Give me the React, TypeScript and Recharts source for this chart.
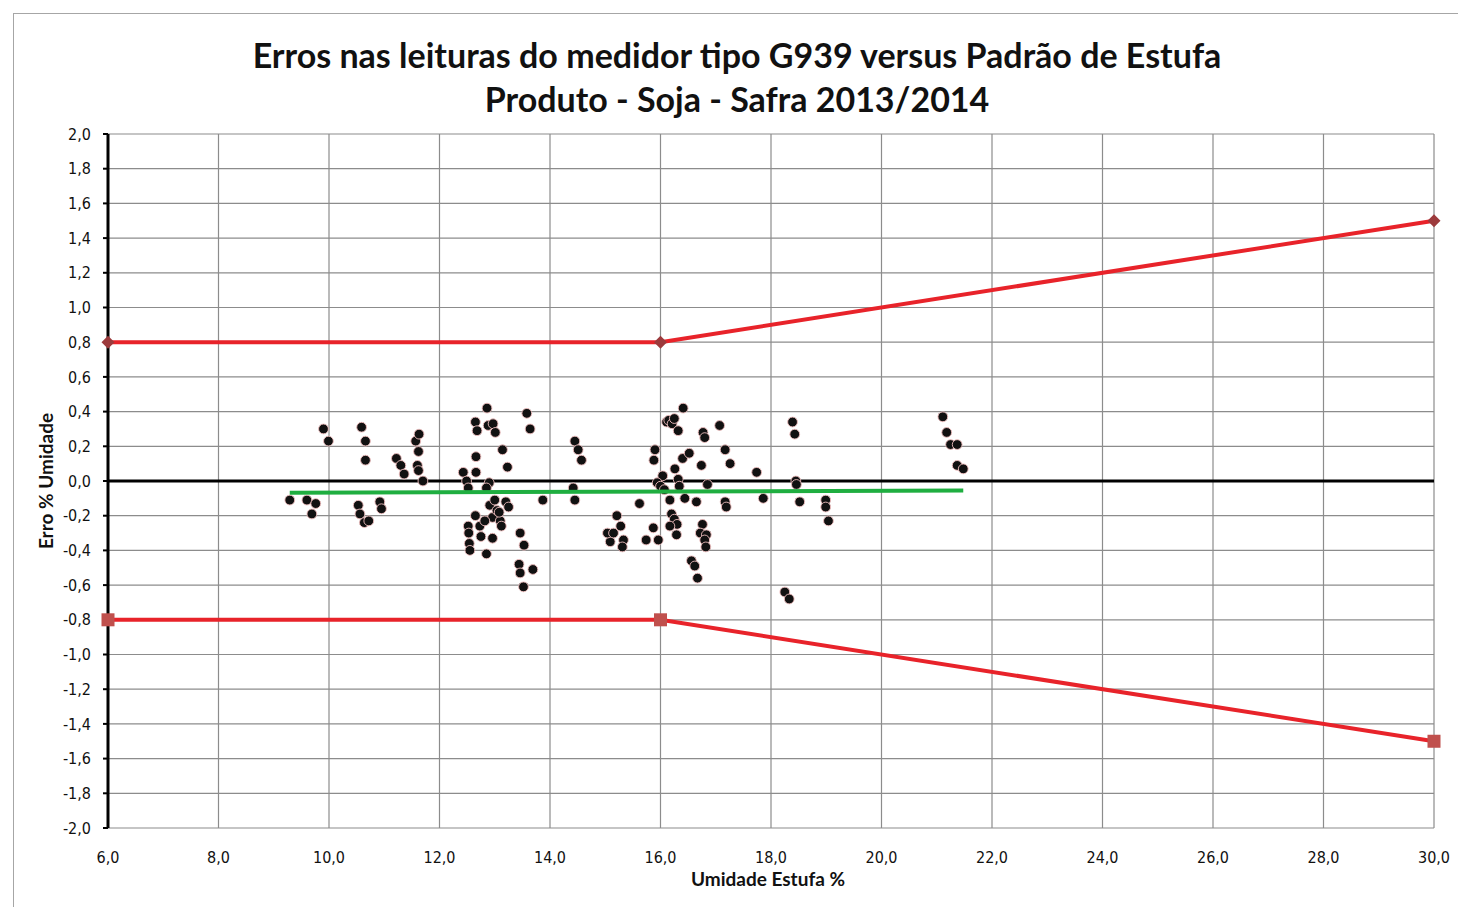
import React from 'react';
import {
  ScatterChart,
  Scatter,
  XAxis,
  YAxis,
  CartesianGrid,
  ReferenceLine,
} from 'recharts';

// leituras: umidade estufa (%) x erro (% umidade)
const moistureX = [
  9.29, 9.6, 9.69, 9.76, 9.9, 9.99,
  10.59, 10.66, 10.66, 10.53, 10.56, 10.64, 10.72, 10.92, 10.95,
  11.22, 11.3, 11.36, 11.57, 11.63, 11.62, 11.6, 11.62, 11.7,
  12.43, 12.49, 12.52, 12.66, 12.66, 12.65, 12.68, 12.86, 12.88, 12.97, 13.01, 13.14, 13.23, 12.9, 12.85,
  13.58, 13.64, 13.87,
  12.52, 12.53, 12.54, 12.55, 12.65, 12.73, 12.75, 12.85, 12.91, 12.96, 13.04, 13.1, 12.96, 13.2, 13.25,
  13.46, 13.53, 13.44, 13.46, 13.69, 13.52, 13.08, 13.12, 13.0, 12.82,
  14.45, 14.51, 14.57, 14.42, 14.45,
  15.09, 15.04, 15.15, 15.21, 15.28, 15.33, 15.31, 15.62, 15.74, 15.87, 15.96,
  15.9, 15.88, 16.04, 15.94, 16.0, 16.07, 16.17, 16.2, 16.25, 16.3, 16.17, 16.29,
  16.11, 16.15, 16.21, 16.25, 16.32, 16.41,
  16.26, 16.32, 16.34, 16.4, 16.52, 16.44, 16.65,
  16.74, 16.77, 16.8, 16.85, 17.07,
  16.76, 16.72, 16.83, 16.8, 16.82,
  16.56, 16.62, 16.67,
  17.17, 17.26, 17.17, 17.19,
  17.74, 17.86, 18.39, 18.43, 18.45, 18.46, 18.52, 18.99, 18.99, 19.04, 18.25, 18.33,
  21.11, 21.18, 21.25, 21.37, 21.37, 21.48,
];

const errorY = [
  -0.11, -0.11, -0.19, -0.13, 0.3, 0.23,
  0.31, 0.23, 0.12, -0.14, -0.19, -0.24, -0.23, -0.12, -0.16,
  0.13, 0.09, 0.04, 0.23, 0.27, 0.17, 0.09, 0.06, 0.0,
  0.05, 0.0, -0.04, 0.05, 0.14, 0.34, 0.29, 0.42, 0.32, 0.33, 0.28, 0.18, 0.08, -0.01, -0.04,
  0.39, 0.3, -0.11,
  -0.26, -0.3, -0.36, -0.4, -0.2, -0.26, -0.32, -0.42, -0.14, -0.21, -0.17, -0.23, -0.33, -0.12, -0.15,
  -0.3, -0.37, -0.48, -0.53, -0.51, -0.61, -0.18, -0.26, -0.11, -0.23,
  0.23, 0.18, 0.12, -0.04, -0.11,
  -0.35, -0.3, -0.3, -0.2, -0.26, -0.34, -0.38, -0.13, -0.34, -0.27, -0.34,
  0.18, 0.12, 0.03, -0.01, -0.03, -0.05, -0.11, -0.19, -0.22, -0.25, -0.26, -0.31,
  0.34, 0.35, 0.33, 0.36, 0.29, 0.42,
  0.07, 0.01, -0.03, 0.13, 0.16, -0.1, -0.12,
  0.09, 0.28, 0.25, -0.02, 0.32,
  -0.25, -0.3, -0.31, -0.34, -0.38,
  -0.46, -0.49, -0.56,
  0.18, 0.1, -0.12, -0.15,
  0.05, -0.1, 0.34, 0.27, 0.0, -0.02, -0.12, -0.11, -0.15, -0.23, -0.64, -0.68,
  0.37, 0.28, 0.21, 0.21, 0.09, 0.07,
];

// limites de tolerância
const limitX = [6, 16, 30];
const upperLimit = [0.8, 0.8, 1.5];
const lowerLimit = [-0.8, -0.8, -1.5];

// linha de tendência
const trendX = [9.29, 21.48];
const trendY = [-0.068, -0.055];

const xTicks = [6, 8, 10, 12, 14, 16, 18, 20, 22, 24, 26, 28, 30];
const yTicks = [
  -2, -1.8, -1.6, -1.4, -1.2, -1, -0.8, -0.6, -0.4, -0.2, 0, 0.2, 0.4, 0.6, 0.8, 1, 1.2, 1.4, 1.6, 1.8, 2,
];

const readings = moistureX.map((x, i) => ({ x, y: errorY[i] }));
const upperData = limitX.map((x, i) => ({ x, y: upperLimit[i] }));
const lowerData = limitX.map((x, i) => ({ x, y: lowerLimit[i] }));
const trendData = trendX.map((x, i) => ({ x, y: trendY[i] }));

const fmt = (v: number) => v.toFixed(1).replace('.', ',');

const Dot = (props: any) => (
  <circle cx={props.cx} cy={props.cy} r={4.9} fill="#111" stroke="#f0c0c0" strokeWidth={0.9} />
);

const Diamond = (props: any) => {
  const { cx, cy } = props;
  const s = 6.5;
  return (
    <polygon
      points={`${cx},${cy - s} ${cx + s},${cy} ${cx},${cy + s} ${cx - s},${cy}`}
      fill="#9c3a3c"
    />
  );
};

const Square = (props: any) => (
  <rect x={props.cx - 6.5} y={props.cy - 6.5} width={13} height={13} fill="#c0504d" />
);

const NoDot = () => <g />;

const textFont = 'Lato, "Open Sans", sans-serif';
const tickFont = '"Liberation Sans Narrow", "DejaVu Sans Condensed", sans-serif';

export default function App() {
  return (
    <div
      style={{
        position: 'absolute',
        left: 0,
        top: 0,
        width: 1458,
        height: 907,
        overflow: 'hidden',
        background: '#fff',
      }}
    >
      <div
        style={{
          position: 'absolute',
          left: 13,
          top: 13,
          width: 1600,
          height: 1000,
          border: '1.5px solid #a6a6a6',
        }}
      />
      <div
        style={{
          position: 'absolute',
          left: 0,
          width: 1474,
          top: 33,
          textAlign: 'center',
          fontFamily: textFont,
          fontWeight: 700,
          fontSize: 34,
          lineHeight: '44px',
          color: '#111',
        }}
      >
        Erros nas leituras do medidor tipo G939 versus Padrão de Estufa
        <br />
        Produto - Soja - Safra 2013/2014
      </div>
      <div
        style={{
          position: 'absolute',
          left: 0,
          width: 1536,
          top: 867,
          textAlign: 'center',
          fontFamily: textFont,
          fontWeight: 700,
          fontSize: 19,
          color: '#111',
        }}
      >
        Umidade Estufa %
      </div>
      <div
        style={{
          position: 'absolute',
          left: 45,
          top: 481,
          transform: 'translate(-50%, -50%) rotate(-90deg)',
          whiteSpace: 'nowrap',
          fontFamily: textFont,
          fontWeight: 700,
          fontSize: 19,
          color: '#111',
        }}
      >
        Erro % Umidade
      </div>
      <div style={{ position: 'absolute', left: 0, top: 0 }}>
        <ScatterChart
          width={1458}
          height={907}
          margin={{ top: 134, right: 24, bottom: 29, left: 8 }}
        >
          <CartesianGrid stroke="#8c8c8c" strokeWidth={1.2} />
          <XAxis
            type="number"
            dataKey="x"
            domain={[6, 30]}
            ticks={xTicks}
            interval={0}
            tickFormatter={fmt}
            axisLine={false}
            tickLine={false}
            height={50}
            tickSize={12}
            tickMargin={12}
            tick={{ fill: '#111', fontSize: 16, fontFamily: tickFont }}
          />
          <YAxis
            type="number"
            dataKey="y"
            domain={[-2, 2]}
            ticks={yTicks}
            interval={0}
            tickFormatter={fmt}
            width={100}
            axisLine={{ stroke: '#000', strokeWidth: 3 }}
            tickLine={{ stroke: '#000', strokeWidth: 2 }}
            tickSize={5}
            tickMargin={12}
            tick={{ fill: '#111', fontSize: 16, fontFamily: tickFont }}
          />
          <ReferenceLine y={0} stroke="#000" strokeWidth={3} />
          <Scatter
            data={upperData}
            line={{ stroke: '#e8232a', strokeWidth: 4 }}
            shape={<Diamond />}
            isAnimationActive={false}
          />
          <Scatter
            data={lowerData}
            line={{ stroke: '#e8232a', strokeWidth: 4 }}
            shape={<Square />}
            isAnimationActive={false}
          />
          <Scatter data={readings} shape={<Dot />} isAnimationActive={false} />
          <Scatter
            data={trendData}
            line={{ stroke: '#1fae40', strokeWidth: 4 }}
            shape={<NoDot />}
            isAnimationActive={false}
          />
        </ScatterChart>
      </div>
    </div>
  );
}
